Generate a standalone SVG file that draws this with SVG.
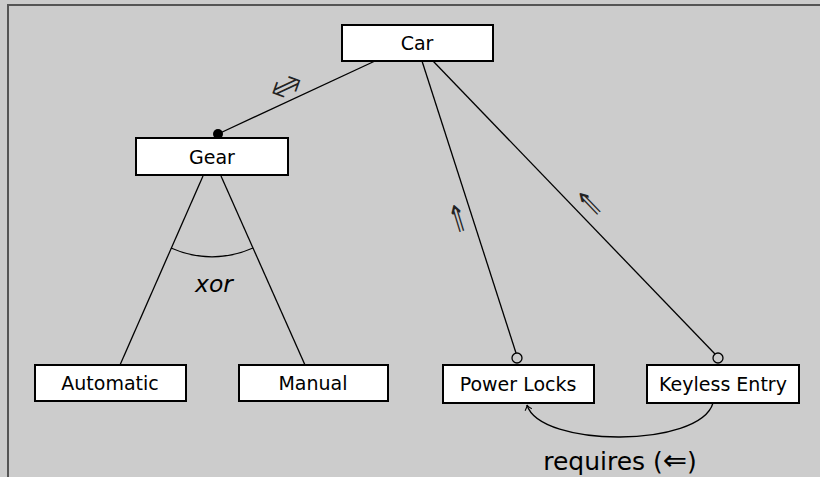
<svg xmlns="http://www.w3.org/2000/svg" width="820" height="477" viewBox="0 0 820 477">
<defs>
<style>
.box{fill:#fff;stroke:#000;stroke-width:2}
.lbl{font-family:"DejaVu Sans",sans-serif;font-size:19px;text-anchor:middle;fill:#000}
.ln{fill:none;stroke:#000;stroke-width:1.3}
.sym{font-family:"DejaVu Sans",sans-serif;font-size:22px;text-anchor:middle;dominant-baseline:central;fill:#222}
.dbl{font-family:Inter,"DejaVu Sans",sans-serif;font-size:27px;font-weight:300;text-anchor:middle;dominant-baseline:central;fill:#222}
</style>
<marker id="arr" viewBox="-6 -5 8 10" markerWidth="8" markerHeight="10" refX="0" refY="0" orient="auto" markerUnits="userSpaceOnUse">
<path d="M-5,-3.5 Q-2,-0.5 0,0 Q-2,0.5 -5,3.5" fill="none" stroke="#000" stroke-width="1"/>
</marker>
</defs>
<rect x="0" y="0" width="820" height="477" fill="#cccccc"/>
<rect x="8" y="5" width="900" height="600" fill="#cccccc" stroke="#555" stroke-width="2"/>
<g id="connectors">
<line class="ln" x1="375" y1="61" x2="218" y2="134"/>
<circle cx="218" cy="134" r="5" fill="#000"/>
<line class="ln" x1="203" y1="176" x2="120" y2="365"/>
<line class="ln" x1="221" y1="176" x2="305" y2="365"/>
<path class="ln" d="M171,248 A100,100 0 0 0 253,248"/>
<line class="ln" x1="422" y1="61" x2="516" y2="353"/>
<circle cx="517" cy="358" r="5" fill="none" stroke="#000" stroke-width="1.3"/>
<line class="ln" x1="433" y1="61" x2="715" y2="354"/>
<circle cx="718" cy="358" r="5" fill="none" stroke="#000" stroke-width="1.3"/>
<path class="ln" d="M713,403 C700,448 540,448 527,405" marker-end="url(#arr)"/>
<text class="dbl" transform="translate(286,86) rotate(-25)">⇔</text>
<text class="sym" transform="translate(458,219) rotate(-17) scale(1,1.7)">⇑</text>
<text class="sym" transform="translate(590,204) rotate(-44) scale(1,1.7)">⇑</text>
<text x="214" y="292" style="font-family:'DejaVu Sans',sans-serif;font-size:23.5px;font-style:italic;text-anchor:middle">xor</text>
<text x="620" y="470" style="font-family:'DejaVu Sans',sans-serif;font-size:25px;text-anchor:middle">requires (<tspan style="font-size:29px">⇐</tspan>)</text>
</g>
<g id="car"><rect class="box" x="342" y="25" width="151" height="36"/><text class="lbl" x="417" y="50">Car</text></g>
<g id="gear"><rect class="box" x="136" y="138" width="152" height="37"/><text class="lbl" x="212" y="164">Gear</text></g>
<g id="automatic"><rect class="box" x="35" y="365" width="151" height="36"/><text class="lbl" x="110" y="390">Automatic</text></g>
<g id="manual"><rect class="box" x="239" y="365" width="149" height="36"/><text class="lbl" x="313" y="390">Manual</text></g>
<g id="powerlocks"><rect class="box" x="443" y="365" width="151" height="38"/><text class="lbl" x="518" y="391">Power Locks</text></g>
<g id="keyless"><rect class="box" x="647" y="365" width="152" height="38"/><text class="lbl" x="723" y="391">Keyless Entry</text></g>
</svg>
